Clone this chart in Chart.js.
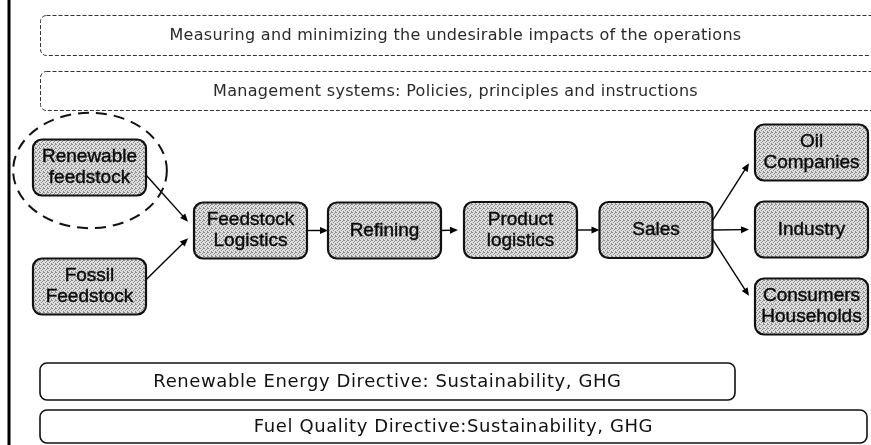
<!DOCTYPE html>
<html>
<head>
<meta charset="utf-8">
<script src="https://cdn.jsdelivr.net/npm/chart.js@4/dist/chart.umd.min.js"></script>
<style>
html,body{margin:0;padding:0;background:#fff;}
#wrap{width:871px;height:445px;}
</style>
</head>
<body>
<div id="wrap"><canvas id="c" width="871" height="445"></canvas></div>
<script>
// ---- data (diagram coordinates in the hidden axes' units) ----
const nodeLabels = ['Renewable\nfeedstock', 'Fossil\nFeedstock', 'Feedstock\nLogistics', 'Refining', 'Product\nlogistics', 'Sales', 'Oil\nCompanies', 'Industry', 'Consumers\nHouseholds'];
const nodeX = [89.5, 89.5, 250.5, 384.5, 520.5, 656, 811.5, 811.5, 811.5];
const nodeY = [167.5, 286.5, 230.5, 230.5, 230, 230, 152.5, 229.5, 306.5];
const links = [[0, 2], [1, 2], [2, 3], [3, 4], [4, 5], [5, 6], [5, 7], [5, 8]];
const highlighted = [0];
const bandLabels = ['Measuring and minimizing the undesirable impacts of the operations', 'Management systems: Policies, principles and instructions', 'Renewable Energy Directive: Sustainability, GHG', 'Fuel Quality Directive:Sustainability, GHG'];
const bandFrom = [40, 40, 40, 40];
const bandTo = [878, 878, 735, 867];
const bandTop = [15, 71, 363, 410];
const bandBottom = [55, 110, 400, 443];
const bandDashed = [true, true, false, false];

// ---- styles ----
const NODE_W = 113, NODE_H = 56, LINE_H = 21;

function stipple(ctx) {
  const t = document.createElement('canvas');
  t.width = 4; t.height = 4;
  const c = t.getContext('2d');
  c.fillStyle = '#dedede'; c.fillRect(0, 0, 4, 4);
  c.fillStyle = '#8e8e8e';
  [[0,0],[2,1],[1,2],[3,3],[3,0]].forEach(p => c.fillRect(p[0], p[1], 1, 1));
  return ctx.createPattern(t, 'repeat');
}

function rr(ctx, x, y, w, h, r) {
  ctx.beginPath();
  ctx.moveTo(x + r, y);
  ctx.lineTo(x + w - r, y);
  ctx.arcTo(x + w, y, x + w, y + r, r);
  ctx.lineTo(x + w, y + h - r);
  ctx.arcTo(x + w, y + h, x + w - r, y + h, r);
  ctx.lineTo(x + r, y + h);
  ctx.arcTo(x, y + h, x, y + h - r, r);
  ctx.lineTo(x, y + r);
  ctx.arcTo(x, y, x + r, y, r);
  ctx.closePath();
}

function arrow(ctx, x1, y1, x2, y2) {
  const a = Math.atan2(y2 - y1, x2 - x1), L = 8, Wd = 3.5;
  ctx.beginPath();
  ctx.moveTo(x1, y1);
  ctx.lineTo(x2 - Math.cos(a) * L * 0.6, y2 - Math.sin(a) * L * 0.6);
  ctx.stroke();
  ctx.beginPath();
  ctx.moveTo(x2, y2);
  ctx.lineTo(x2 - L * Math.cos(a) + Wd * Math.sin(a), y2 - L * Math.sin(a) - Wd * Math.cos(a));
  ctx.lineTo(x2 - L * Math.cos(a) - Wd * Math.sin(a), y2 - L * Math.sin(a) + Wd * Math.cos(a));
  ctx.closePath();
  ctx.fill();
}

const diagramPlugin = {
  id: 'diagram',
  afterDatasetsDraw(chart) {
    const ctx = chart.ctx, xs = chart.scales.x, ys = chart.scales.y;
    const px = v => xs.getPixelForValue(v), py = v => ys.getPixelForValue(v);
    ctx.save();

    // left frame rule
    ctx.fillStyle = '#000';
    ctx.fillRect(px(7.5), py(0), 3, py(445) - py(0));

    // bands
    bandLabels.forEach((lab, i) => {
      const x0 = px(bandFrom[i]), x1 = px(bandTo[i]), y0 = py(bandTop[i]), y1 = py(bandBottom[i]);
      ctx.save();
      if (bandDashed[i]) {
        ctx.setLineDash([4, 2]);
        ctx.lineWidth = 1;
        ctx.strokeStyle = '#333';
        rr(ctx, x0 + 0.5, y0 + 0.5, x1 - x0, y1 - y0, 6);
        ctx.stroke();
        ctx.fillStyle = '#2a2a2a';
        ctx.font = '16px "DejaVu Sans"';
        ctx.letterSpacing = '0.3px';
      } else {
        ctx.lineWidth = 1.6;
        ctx.strokeStyle = '#111';
        rr(ctx, x0, y0, x1 - x0, y1 - y0, 7);
        ctx.stroke();
        ctx.fillStyle = '#111';
        ctx.font = '18px "DejaVu Sans"';
        ctx.letterSpacing = '0.6px';
      }
      ctx.textAlign = 'center';
      ctx.textBaseline = 'middle';
      ctx.fillText(lab, (x0 + Math.min(x1, px(871))) / 2, (y0 + y1) / 2 + 1);
      ctx.restore();
    });

    // links
    ctx.strokeStyle = '#000';
    ctx.fillStyle = '#000';
    ctx.lineWidth = 1.4;
    links.forEach(([s, t]) => {
      const dy = nodeY[t] - nodeY[s];
      const x1 = px(nodeX[s] + NODE_W / 2), y1 = py(nodeY[s] + 0.12 * dy);
      const x2 = px(nodeX[t] - NODE_W / 2 - (dy === 0 ? 0 : 6)), y2 = py(nodeY[t] - 0.14 * dy);
      arrow(ctx, x1, y1, x2, y2);
    });

    // nodes
    const pat = stipple(ctx);
    nodeLabels.forEach((lab, i) => {
      const x = px(nodeX[i] - NODE_W / 2), y = py(nodeY[i] - NODE_H / 2);
      const w = px(nodeX[i] + NODE_W / 2) - x, h = py(nodeY[i] + NODE_H / 2) - y;
      rr(ctx, x, y, w, h, 9);
      ctx.fillStyle = pat;
      ctx.fill();
      ctx.lineWidth = 2.2;
      ctx.strokeStyle = '#111';
      ctx.stroke();
      const lines = lab.split('\n');
      ctx.fillStyle = '#0a0a0a';
      ctx.strokeStyle = '#0a0a0a';
      ctx.lineWidth = 0.4;
      ctx.font = '19px "Liberation Sans"';
      ctx.textAlign = 'center';
      ctx.textBaseline = 'middle';
      lines.forEach((ln, k) => {
        const ty = y + h / 2 + (k - (lines.length - 1) / 2) * LINE_H;
        ctx.fillText(ln, x + w / 2, ty);
        ctx.strokeText(ln, x + w / 2, ty);
      });
    });

    // highlight ellipse
    highlighted.forEach(i => {
      ctx.save();
      ctx.setLineDash([11, 7]);
      ctx.lineWidth = 2;
      ctx.strokeStyle = '#111';
      ctx.beginPath();
      ctx.ellipse(px(nodeX[i] + 0.5), py(nodeY[i] + 3), NODE_W * 0.68, NODE_H * 1.03, 0, 0, Math.PI * 2);
      ctx.stroke();
      ctx.restore();
    });

    ctx.restore();
  }
};

new Chart(document.getElementById('c'), {
  type: 'scatter',
  data: {
    datasets: [{
      label: 'nodes',
      data: nodeLabels.map((l, i) => ({ x: nodeX[i], y: nodeY[i] })),
      pointRadius: 0
    }]
  },
  options: {
    responsive: false,
    animation: false,
    layout: { padding: 0 },
    plugins: { legend: { display: false }, tooltip: { enabled: false } },
    scales: {
      x: { type: 'linear', min: 0, max: 871, display: false },
      y: { type: 'linear', min: 0, max: 445, reverse: true, display: false }
    }
  },
  plugins: [diagramPlugin]
});
</script>
</body>
</html>
